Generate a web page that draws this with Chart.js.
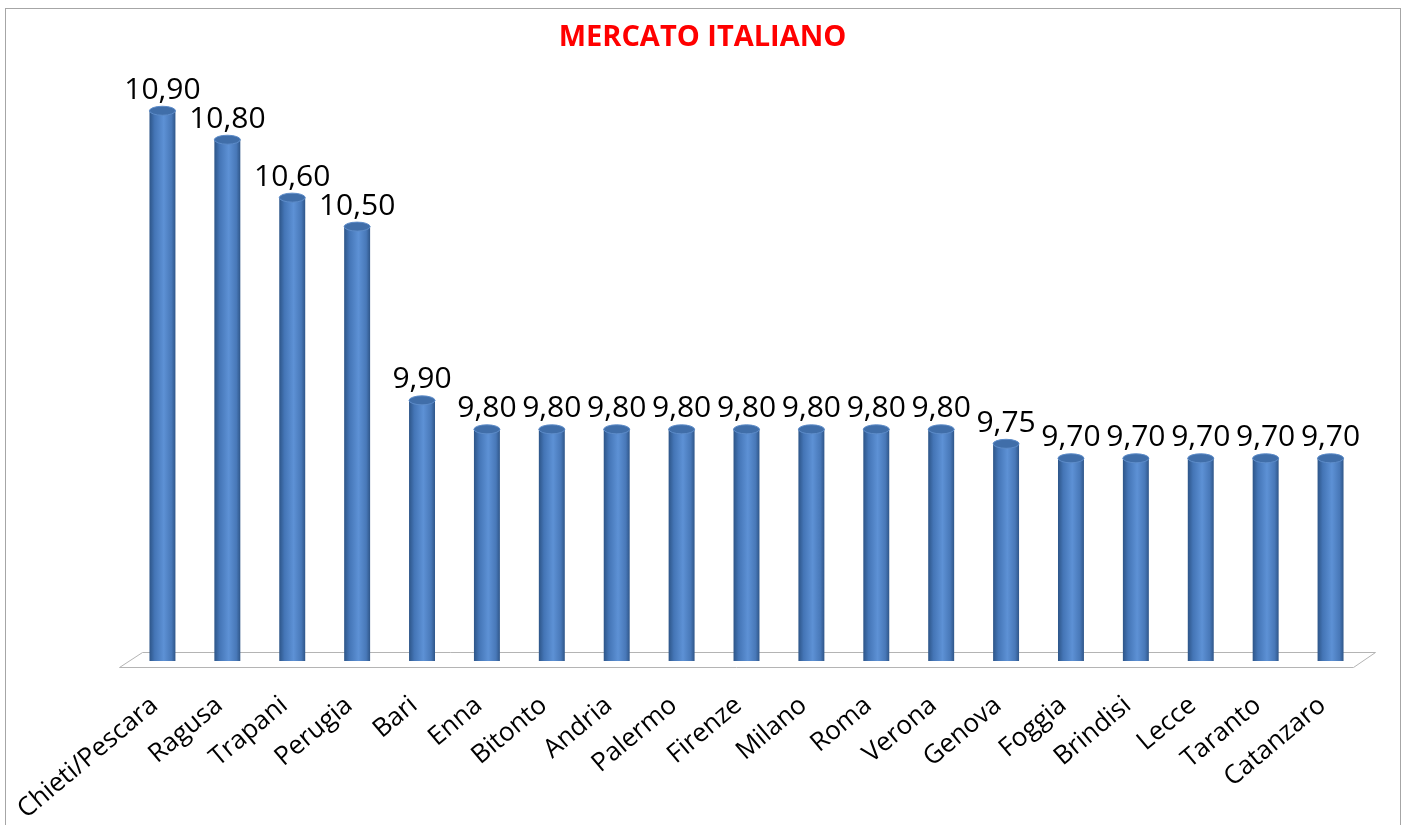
<!DOCTYPE html>
<html>
<head>
<meta charset="utf-8">
<script src="https://cdn.jsdelivr.net/npm/chart.js@4/dist/chart.umd.min.js"></script>
<style>
  html, body { margin: 0; padding: 0; background: #fff; }
</style>
</head>
<body>
<canvas id="chart" width="1405" height="825"></canvas>
<script>
const categories = ['Chieti/Pescara', 'Ragusa', 'Trapani', 'Perugia', 'Bari', 'Enna', 'Bitonto', 'Andria',
    'Palermo', 'Firenze', 'Milano', 'Roma', 'Verona', 'Genova', 'Foggia', 'Brindisi', 'Lecce', 'Taranto', 'Catanzaro'];
const prices = [10.90, 10.80, 10.60, 10.50, 9.90, 9.80, 9.80, 9.80, 9.80, 9.80, 9.80, 9.80, 9.80, 9.75, 9.70, 9.70, 9.70, 9.70, 9.70];
const yMin = 9;
const yMax = 11;
const chartTitle = 'MERCATO ITALIANO';

function formatValue(v) {
    return v.toFixed(2).replace('.', ',');
}

// horizontal shading so the bars look like cylinders
function barGradient(context) {
    const chart = context.chart;
    const xs = chart.scales.x;
    if (context.type !== 'data' || !xs || !xs.width) {
        return '#4F81BD';
    }
    const x = xs.getPixelForValue(context.dataIndex);
    const half = xs.width / categories.length * 0.4 / 2;
    const g = chart.ctx.createLinearGradient(x - half, 0, x + half, 0);
    g.addColorStop(0, '#2d5588');
    g.addColorStop(0.2, '#4475b6');
    g.addColorStop(0.55, '#5d91d5');
    g.addColorStop(0.85, '#4878b8');
    g.addColorStop(1, '#2f5689');
    return g;
}

const cylinderPlugin = {
    id: 'cylinder',
    beforeDraw(chart) {
        const ctx = chart.ctx;
        ctx.save();
        ctx.fillStyle = '#fff';
        ctx.fillRect(0, 0, chart.width, chart.height);
        ctx.strokeStyle = '#a6a6a6';
        ctx.lineWidth = 1;
        ctx.strokeRect(5.5, 8.5, chart.width - 10, chart.height + 10);
        ctx.restore();
    },
    beforeDatasetsDraw(chart) {
        const ctx = chart.ctx;
        const area = chart.chartArea;
        const y0 = chart.scales.y.getPixelForValue(yMin);
        // floor
        ctx.save();
        ctx.beginPath();
        ctx.moveTo(area.left - 10.5, y0 + 6.5);
        ctx.lineTo(area.right - 9.5, y0 + 6.5);
        ctx.lineTo(area.right + 12.5, y0 - 8.5);
        ctx.lineTo(area.left + 12.5, y0 - 8.5);
        ctx.closePath();
        ctx.fillStyle = '#fff';
        ctx.fill();
        ctx.strokeStyle = '#b4b4b4';
        ctx.lineWidth = 1;
        ctx.stroke();
        // bottom of each cylinder
        const meta = chart.getDatasetMeta(0);
        meta.data.forEach((el) => {
            const p = el.getProps(['x', 'base', 'width'], true);
            ctx.beginPath();
            ctx.ellipse(p.x, p.base, p.width / 2, 4.5, 0, 0, Math.PI * 2);
            ctx.fillStyle = el.options.backgroundColor;
            ctx.fill();
        });
        ctx.restore();
    },
    afterDatasetsDraw(chart) {
        const ctx = chart.ctx;
        const meta = chart.getDatasetMeta(0);
        ctx.save();
        meta.data.forEach((el, i) => {
            const p = el.getProps(['x', 'y', 'width'], true);
            ctx.beginPath();
            ctx.ellipse(p.x, p.y, p.width / 2, 4.5, 0, 0, Math.PI * 2);
            ctx.fillStyle = '#406ea9';
            ctx.fill();
            ctx.strokeStyle = '#5d8cc9';
            ctx.lineWidth = 1;
            ctx.stroke();

            ctx.fillStyle = '#000';
            ctx.font = '30px "Open Sans"';
            ctx.textAlign = 'center';
            ctx.textBaseline = 'alphabetic';
            ctx.fillText(formatValue(prices[i]), p.x, p.y - 12);
        });
        ctx.restore();
    }
};

new Chart(document.getElementById('chart'), {
    type: 'bar',
    data: {
        labels: categories,
        datasets: [{
            data: prices,
            backgroundColor: barGradient,
            borderWidth: 0,
            barPercentage: 0.4,
            categoryPercentage: 1,
        }],
    },
    options: {
        responsive: false,
        animation: false,
        devicePixelRatio: 1,
        layout: {
            padding: 0,
        },
        plugins: {
            legend: { display: false },
            tooltip: { enabled: false },
            title: {
                display: true,
                text: chartTitle,
                color: '#ff0000',
                font: { family: '"Open Sans"', size: 29, weight: 'bold' },
                padding: { top: 20, bottom: 27 },
            },
        },
        scales: {
            x: {
                grid: { display: false },
                border: { display: false },
                ticks: {
                    color: '#000',
                    font: { family: '"Open Sans"', size: 26 },
                    minRotation: 40,
                    maxRotation: 40,
                    padding: 21,
                    labelOffset: -8,
                    autoSkip: false,
                },
                afterFit(scale) {
                    scale.height = 164;
                    scale.paddingLeft = 0;
                    scale.paddingRight = 42;
                },
            },
            y: {
                display: true,
                min: yMin,
                max: yMax,
                grid: { display: false },
                border: { display: false },
                ticks: { display: false },
                afterFit(scale) {
                    scale.width = 130;
                },
            },
        },
    },
    plugins: [cylinderPlugin],
});
</script>
</body>
</html>
